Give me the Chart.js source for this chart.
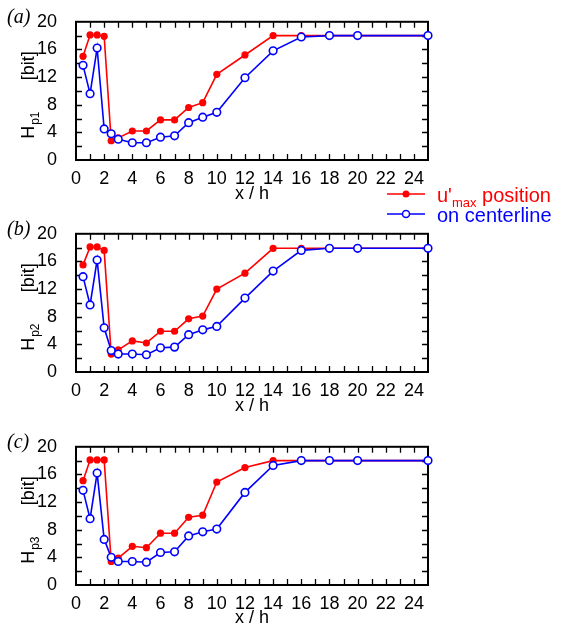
<!DOCTYPE html>
<html>
<head>
<meta charset="utf-8">
<script src="https://cdn.jsdelivr.net/npm/chart.js@4.4.1/dist/chart.umd.min.js"></script>
<style>
html, body { margin: 0; padding: 0; background: #fff; overflow: hidden; }
#wrap { position: relative; width: 562px; height: 636px; }
canvas { position: absolute; left: 0; }
</style>
</head>
<body>
<div id="wrap">
  <canvas id="p1" width="562" height="236" style="top:0px"></canvas>
  <canvas id="p2" width="562" height="212" style="top:212px"></canvas>
  <canvas id="p3" width="562" height="211" style="top:425px"></canvas>
</div>
<script>
// x / h positions shared by all three panels
const xPos = [0.5, 1, 1.5, 2, 2.5, 3, 4, 5, 6, 7, 8, 9, 10, 12, 14, 16, 18, 20, 25];

// (a) H_p1
const umaxP1 = [15.0, 18.1, 18.1, 17.9, 2.8, 3.2, 4.2, 4.2, 5.8, 5.8, 7.6, 8.3, 12.4, 15.2, 18.0, 18.0, 18.0, 18.0, 18.0];
const centerP1 = [13.7, 9.6, 16.2, 4.5, 3.8, 3.0, 2.5, 2.5, 3.3, 3.5, 5.4, 6.2, 6.9, 11.9, 15.8, 17.8, 18.0, 18.0, 18.0];

// (b) H_p2
const umaxP2 = [15.5, 18.1, 18.1, 17.6, 2.6, 3.2, 4.5, 4.2, 5.9, 5.9, 7.7, 8.1, 12.0, 14.3, 17.9, 17.9, 17.9, 17.9, 17.9];
const centerP2 = [13.8, 9.7, 16.2, 6.4, 3.1, 2.6, 2.6, 2.5, 3.5, 3.6, 5.4, 6.1, 6.6, 10.7, 14.6, 17.6, 17.9, 17.9, 17.9];

// (c) H_p3
const umaxP3 = [15.1, 18.1, 18.1, 18.1, 3.4, 3.9, 5.6, 5.4, 7.5, 7.5, 9.8, 10.1, 14.9, 17.0, 18.0, 18.0, 18.0, 18.0, 18.0];
const centerP3 = [13.7, 9.6, 16.2, 6.6, 4.0, 3.4, 3.4, 3.3, 4.7, 4.8, 7.1, 7.7, 8.1, 13.4, 17.3, 18.0, 18.0, 18.0, 18.0];

// axis ticks
const xMin = 0, xMax = 25, xLabelStep = 2;
const yMin = 0, yMax = 20, yLabelStep = 4;
const xTickMarks = Array.from({ length: 24 }, (_, i) => i + 1);
const yTickMarks = [2, 4, 6, 8, 10, 12, 14, 16, 18];

const RED = '#ff0000';
const BLUE = '#0000ff';
const SANS = "'Liberation Sans', Arial, sans-serif";
const SERIF = "'Liberation Serif', 'Times New Roman', serif";

Chart.defaults.font.family = SANS;
Chart.defaults.font.size = 18;
Chart.defaults.color = '#000';

// box with inward ticks on all four sides
const frameTicks = {
  id: 'frameTicks',
  beforeDatasetsDraw(chart) {
    const { ctx, chartArea: a, scales: { x, y } } = chart;
    ctx.save();
    ctx.strokeStyle = '#000';
    ctx.lineWidth = 1.3;
    ctx.beginPath();
    xTickMarks.forEach(v => {
      const px = Math.round(x.getPixelForValue(v)) + 0.5;
      ctx.moveTo(px, a.bottom); ctx.lineTo(px, a.bottom - 6);
      ctx.moveTo(px, a.top); ctx.lineTo(px, a.top + 6);
    });
    yTickMarks.forEach(v => {
      const py = Math.round(y.getPixelForValue(v)) + 0.5;
      ctx.moveTo(a.left, py); ctx.lineTo(a.left + 6, py);
      ctx.moveTo(a.right, py); ctx.lineTo(a.right - 6, py);
    });
    ctx.stroke();
    ctx.lineWidth = 2;
    ctx.strokeRect(a.left, a.top, a.right - a.left, a.bottom - a.top);
    ctx.restore();
  }
};

// panel tag, rotated y title with subscript, optional legend
const panelText = {
  id: 'panelText',
  afterDraw(chart, args, opts) {
    const { ctx, chartArea: a } = chart;
    ctx.save();
    ctx.fillStyle = '#000';
    ctx.textBaseline = 'middle';
    ctx.textAlign = 'left';
    ctx.font = 'italic 20px ' + SERIF;
    ctx.fillText(opts.tag, 7, a.top - 4);

    // y title: H_pN ... [bit]
    ctx.translate(34, a.top + 117);
    ctx.rotate(-Math.PI / 2);
    ctx.textBaseline = 'alphabetic';
    ctx.font = '18px ' + SANS;
    ctx.fillText('H', 0, 0);
    const wH = ctx.measureText('H').width;
    ctx.font = '12px ' + SANS;
    ctx.fillText(opts.sub, wH + 1, 5);
    ctx.font = '18px ' + SANS;
    ctx.textAlign = 'center';
    ctx.fillText('[bit]', 73, 0);
    ctx.restore();

    if (opts.legend) drawLegend(ctx);
  }
};

function drawLegend(ctx) {
  const rows = [
    { y: 194, color: RED, filled: true, parts: [["u'", 20, 0], ['max', 13, 5], [' position', 20, 0]] },
    { y: 214, color: BLUE, filled: false, parts: [['on centerline', 20, 0]] }
  ];
  ctx.save();
  rows.forEach(r => {
    ctx.strokeStyle = r.color;
    ctx.lineWidth = 1.5;
    ctx.beginPath();
    ctx.moveTo(387, r.y); ctx.lineTo(425, r.y);
    ctx.stroke();
    ctx.beginPath();
    ctx.arc(406, r.y, 3.5, 0, Math.PI * 2);
    ctx.fillStyle = r.filled ? r.color : '#fff';
    ctx.fill();
    if (!r.filled) ctx.stroke();
    ctx.fillStyle = r.color;
    ctx.textAlign = 'left';
    ctx.textBaseline = 'alphabetic';
    let tx = 437;
    r.parts.forEach(([t, size, dy]) => {
      ctx.font = size + 'px ' + SANS;
      ctx.fillText(t, tx, r.y + 8 + dy);
      tx += ctx.measureText(t).width;
    });
  });
  ctx.restore();
}

function points(ys) {
  return xPos.map((x, i) => ({ x, y: ys[i] }));
}

function makePanel(id, umax, center, tag, sub, legend, xAxisHeight, padBottom) {
  return new Chart(document.getElementById(id), {
    type: 'line',
    data: {
      datasets: [
        {
          label: "u'max position",
          data: points(umax),
          borderColor: RED,
          backgroundColor: RED,
          borderWidth: 1.6,
          pointRadius: 3.6,
          pointBorderWidth: 0,
          pointBackgroundColor: RED,
          tension: 0,
          clip: false,
          order: 2
        },
        {
          label: 'on centerline',
          data: points(center),
          borderColor: BLUE,
          backgroundColor: BLUE,
          borderWidth: 1.6,
          pointRadius: 3.8,
          pointBorderWidth: 1.6,
          pointBorderColor: BLUE,
          pointBackgroundColor: '#fff',
          tension: 0,
          clip: false,
          order: 1
        }
      ]
    },
    options: {
      responsive: false,
      animation: false,
      events: [],
      layout: { padding: { left: 0, right: 134, top: 18, bottom: padBottom } },
      plugins: {
        legend: { display: false },
        tooltip: { enabled: false },
        panelText: { tag, sub, legend }
      },
      scales: {
        x: {
          type: 'linear',
          min: xMin,
          max: xMax,
          grid: { display: false },
          border: { display: false },
          ticks: { stepSize: xLabelStep, includeBounds: false, padding: 0, maxRotation: 0, autoSkip: false },
          title: { display: true, text: 'x / h', font: { size: 18 }, padding: { top: 0, bottom: 7 } },
          afterFit(scale) { scale.height = xAxisHeight; }
        },
        y: {
          min: yMin,
          max: yMax,
          grid: { display: false },
          border: { display: false },
          ticks: { stepSize: yLabelStep, padding: 11 },
          afterFit(scale) { scale.width = 76; }
        }
      }
    },
    plugins: [frameTicks, panelText]
  });
}

makePanel('p1', umaxP1, centerP1, '(a)', 'p1', true, 52, 24);
makePanel('p2', umaxP2, centerP2, '(b)', 'p2', false, 52, 0);
makePanel('p3', umaxP3, centerP3, '(c)', 'p3', false, 51, 0);
</script>
</body>
</html>
